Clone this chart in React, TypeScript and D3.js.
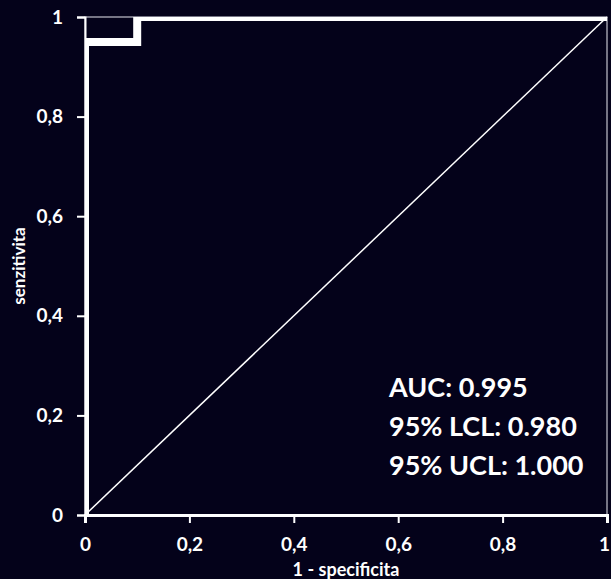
import React, { useEffect, useRef } from 'react';
import * as d3 from 'd3';

// ROC curve points (1 - specificity, sensitivity)
const fpr = [0, 0, 0.1, 0.1, 1];
const tpr = [0, 0.95, 0.95, 1, 1];
const tickValues = [0, 0.2, 0.4, 0.6, 0.8, 1];
const statLines = ['AUC: 0.995', '95% LCL: 0.980', '95% UCL: 1.000'];
const xTitle = '1 - specificita';
const yTitle = 'senzitivita';

const W = 611;
const H = 579;
const BG = '#04021a';
const FONT = 'Lato, Open Sans, sans-serif';

export default function App() {
  const ref = useRef<SVGSVGElement>(null);

  useEffect(() => {
    const svg = d3.select(ref.current);
    svg.selectAll('*').remove();

    const x = d3.scaleLinear().domain([0, 1]).range([85, 607]);
    const y = d3.scaleLinear().domain([0, 1]).range([515, 17]);
    const fmt = (d: d3.NumberValue) => d3.format('~g')(d as number).replace('.', ',');

    svg.append('rect').attr('width', W).attr('height', H).attr('fill', BG);

    svg.append('clipPath').attr('id', 'plot-clip')
      .append('rect')
      .attr('x', x(0)).attr('y', y(1))
      .attr('width', x(1) - x(0)).attr('height', y(0) - y(1));

    // thin plot border (top / right)
    svg.append('rect')
      .attr('x', x(0)).attr('y', y(1))
      .attr('width', x(1) - x(0)).attr('height', y(0) - y(1))
      .attr('fill', 'none').attr('stroke', '#e8e8f0').attr('stroke-width', 1);

    // diagonal reference
    svg.append('line')
      .attr('x1', x(0)).attr('y1', y(0)).attr('x2', x(1)).attr('y2', y(1))
      .attr('stroke', '#ffffff').attr('stroke-width', 1.5);

    // x axis
    const xAxis = svg.append('g')
      .attr('transform', `translate(0,${y(0)})`)
      .call(d3.axisBottom(x).tickValues(tickValues).tickSize(8).tickPadding(15).tickFormat(fmt));
    xAxis.select('.domain').attr('stroke', '#fff').attr('stroke-width', 3);
    xAxis.selectAll('.tick line').attr('stroke', '#fff').attr('stroke-width', 2);
    xAxis.selectAll('text').attr('fill', '#fff').attr('font-size', 19)
      .attr('font-weight', 'bold').attr('font-family', FONT);
    // keep the last label inside the page
    xAxis.selectAll<SVGTextElement, number>('.tick text')
      .attr('dx', d => (d === 1 ? -3 : 0));

    // y axis
    const yAxis = svg.append('g')
      .attr('transform', `translate(${x(0)},0)`)
      .call(d3.axisLeft(y).tickValues(tickValues).tickSize(8).tickPadding(14).tickFormat(fmt));
    yAxis.select('.domain').attr('stroke', '#fff').attr('stroke-width', 2);
    yAxis.selectAll('.tick line').attr('stroke', '#fff').attr('stroke-width', 2);
    yAxis.selectAll('text').attr('fill', '#fff').attr('font-size', 19)
      .attr('font-weight', 'bold').attr('font-family', FONT);

    // ROC curve
    const line = d3.line<number>()
      .x((_, i) => x(fpr[i]))
      .y((_, i) => y(tpr[i]));
    svg.append('path')
      .attr('d', line(fpr))
      .attr('clip-path', 'url(#plot-clip)')
      .attr('fill', 'none')
      .attr('stroke', '#fff')
      .attr('stroke-width', 8)
      .attr('stroke-linejoin', 'miter');

    // axis titles
    svg.append('text')
      .attr('x', (x(0) + x(1)) / 2).attr('y', 576)
      .attr('text-anchor', 'middle').attr('fill', '#fff')
      .attr('font-size', 18).attr('font-weight', 'bold').attr('font-family', FONT)
      .text(xTitle);
    svg.append('text')
      .attr('transform', `translate(25,266) rotate(-90)`)
      .attr('text-anchor', 'middle').attr('fill', '#fff')
      .attr('font-size', 17).attr('font-weight', 'bold').attr('font-family', FONT)
      .text(yTitle);

    // statistics block
    svg.append('g').selectAll('text').data(statLines).enter()
      .append('text')
      .attr('x', 389)
      .attr('y', (_, i) => 397 + i * 39)
      .attr('fill', '#fff')
      .attr('font-size', 27)
      .attr('font-weight', 'bold')
      .attr('font-family', FONT)
      .text(d => d);
  }, []);

  return (
    <svg ref={ref} width={W} height={H}
      style={{ position: 'absolute', left: 0, top: 0, display: 'block' }} />
  );
}
